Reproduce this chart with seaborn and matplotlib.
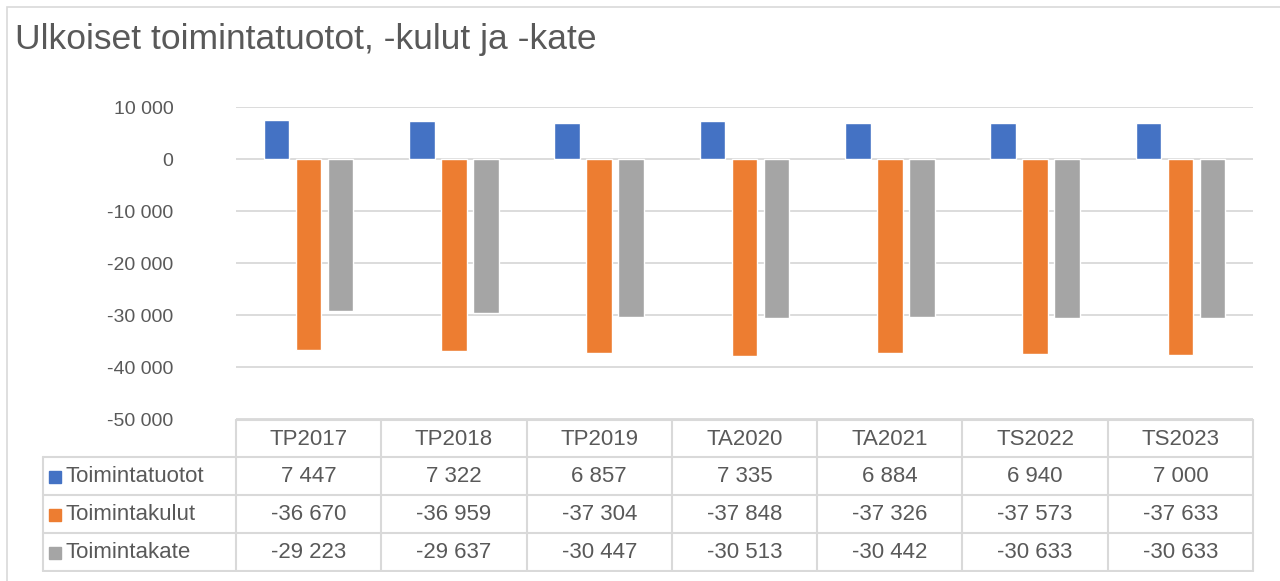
import numpy as np
import pandas as pd
import seaborn as sns
import matplotlib.pyplot as plt
from matplotlib.ticker import FuncFormatter
from matplotlib.patches import Rectangle

# Data
years = ["TP2017", "TP2018", "TP2019", "TA2020", "TA2021", "TS2022", "TS2023"]
series = ["Toimintatuotot", "Toimintakulut", "Toimintakate"]
tuotot = [7447, 7322, 6857, 7335, 6884, 6940, 7000]
kulut = [-36670, -36959, -37304, -37848, -37326, -37573, -37633]
kate = [-29223, -29637, -30447, -30513, -30442, -30633, -30633]
colors = ["#4472C4", "#ED7D31", "#A5A5A5"]

df = pd.DataFrame({"year": years, series[0]: tuotot, series[1]: kulut, series[2]: kate})
long_df = df.melt(id_vars="year", var_name="series", value_name="value")

sns.set_style("white")
plt.rcParams["font.family"] = ["Liberation Sans", "DejaVu Sans"]
txt_color = "#595959"
grid_color = "#D9D9D9"

W, H = 1280, 581
fig = plt.figure(figsize=(W / 100, H / 100), dpi=100)

def px(x0, y0, x1, y1):
    """pixel box -> figure fraction rect"""
    return [x0 / W, 1 - y1 / H, (x1 - x0) / W, (y1 - y0) / H]

# outer chart border (only left and top are visible, rest is cropped)
fig.patches.append(Rectangle((7 / W, -0.1), 1.2, 1.1 - 7 / H, transform=fig.transFigure,
                             fill=False, edgecolor=grid_color, linewidth=1.2))

ax = fig.add_axes(px(236, 107, 1253, 419))
sns.barplot(data=long_df, x="year", y="value", hue="series", hue_order=series,
            palette=colors, width=0.66, gap=0.2, ax=ax, legend=False, saturation=1)

ax.set_ylim(-50000, 10000)
ax.set_xlim(-0.5, len(years) - 0.5)
ax.set_yticks(np.arange(-50000, 10001, 10000))
ax.yaxis.set_major_formatter(FuncFormatter(lambda v, p: f"{int(v):,}".replace(",", " ")))
ax.grid(axis="y", color=grid_color, linewidth=1.3)
ax.set_axisbelow(True)
for s in ax.spines.values():
    s.set_visible(False)
ax.set_xticks([])
ax.set_xlabel("")
ax.set_ylabel("")
ax.tick_params(axis="y", length=0, pad=45, labelsize=14, labelcolor=txt_color)

# data table below the plot
tab = fig.add_axes(px(0, 419, W, 572))
tab.set_xlim(0, W)
tab.set_ylim(572, 419)
tab.axis("off")

col_left = 236
col_w = (1253 - 236) / len(years)
row_y = [420, 457, 495, 533, 571]
lw = 1.5
# horizontal lines
tab.plot([col_left, 1253], [row_y[0], row_y[0]], color=grid_color, lw=lw)
for y in row_y[1:]:
    tab.plot([43, 1253], [y, y], color=grid_color, lw=lw)
# vertical lines
tab.plot([43, 43], [row_y[1], row_y[-1]], color=grid_color, lw=lw)
for i in range(len(years) + 1):
    x = col_left + i * col_w
    tab.plot([x, x], [row_y[0], row_y[-1]], color=grid_color, lw=lw)

for i, yr in enumerate(years):
    tab.text(col_left + (i + 0.5) * col_w, (row_y[0] + row_y[1]) / 2 + 1, yr,
             ha="center", va="center", fontsize=16, color=txt_color)

for r, (name, vals, c) in enumerate(zip(series, [tuotot, kulut, kate], colors)):
    yc = (row_y[r + 1] + row_y[r + 2]) / 2 + 1
    tab.add_patch(Rectangle((49, yc - 6), 12, 12, color=c))
    tab.text(65, yc, name, ha="left", va="center", fontsize=16, color=txt_color)
    for i, v in enumerate(vals):
        tab.text(col_left + (i + 0.5) * col_w, yc, f"{v:,}".replace(",", " "),
                 ha="center", va="center", fontsize=16, color=txt_color)

fig.text(15 / W, 1 - 39 / H, "Ulkoiset toimintatuotot, -kulut ja -kate", ha="left", va="center",
         fontsize=25.5, color=txt_color)

fig.savefig("out.png", dpi=100)
